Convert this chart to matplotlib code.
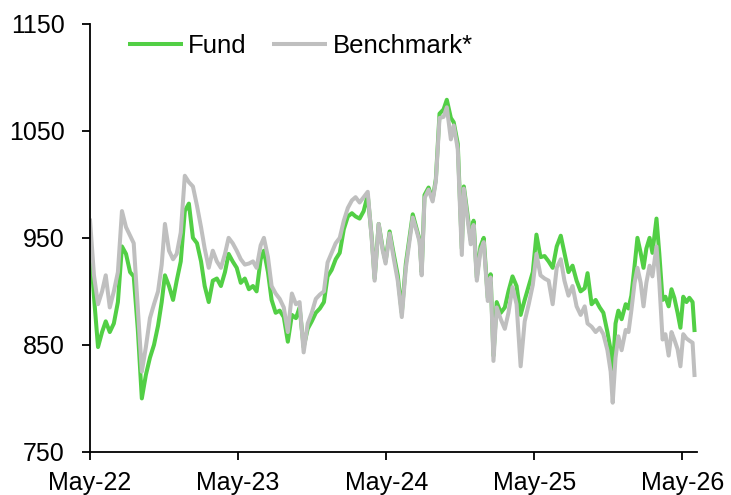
import matplotlib
matplotlib.use("Agg")
import matplotlib.pyplot as plt
import pandas as pd

# Time axis: days elapsed since 1 May 2022
day_offsets = [
    0, 10, 20, 30, 39, 49, 59, 69, 79, 89, 99, 108, 118, 128, 138, 148, 158, 168, 177, 185,
    195, 205, 214, 224, 234, 244, 254, 264, 274, 283, 293, 303, 313, 323, 333, 342, 352, 362, 372, 382,
    392, 402, 411, 421, 429, 439, 448, 458, 468, 478, 488, 498, 508, 517, 527, 537, 547, 557, 567, 577,
    586, 596, 606, 616, 626, 636, 646, 655, 665, 675, 685, 695, 702, 712, 722, 729, 739, 749, 759, 769,
    779, 788, 796, 806, 813, 818, 825, 835, 845, 853, 862, 872, 880, 890, 897, 907, 917, 922, 931, 939,
    946, 954, 963, 971, 981, 988, 995, 1003, 1013, 1023, 1032, 1042, 1052, 1062, 1072, 1082, 1092, 1101, 1111, 1121,
    1131, 1141, 1151, 1161, 1170, 1180, 1190, 1200, 1210, 1220, 1227, 1237, 1247, 1257, 1266, 1276, 1284, 1289, 1296, 1303,
    1311, 1321, 1328, 1335, 1343, 1350, 1358, 1365, 1372, 1380, 1387, 1397, 1404, 1412, 1419, 1427, 1434, 1441, 1449, 1456,
    1463, 1471, 1478, 1486, 1491,
]

fund = [
    950, 895, 848, 862, 872, 862, 870, 890, 942, 935, 918, 914, 865, 800, 822, 838, 850, 868, 890, 915,
    905, 892, 910, 928, 975, 982, 950, 945, 928, 905, 890, 910, 912, 905, 918, 935, 928, 922, 908, 912,
    902, 905, 900, 930, 938, 918, 892, 880, 882, 876, 853, 878, 875, 885, 848, 865, 872, 880, 884, 890,
    914, 920, 930, 936, 958, 970, 973, 970, 968, 975, 990, 950, 912, 963, 940, 928, 956, 935, 915, 880,
    926, 950, 972, 958, 948, 918, 990, 997, 986, 1005, 1066, 1070, 1079, 1062, 1058, 1038, 940, 998, 972, 948,
    966, 913, 942, 950, 894, 916, 840, 890, 880, 885, 900, 914, 905, 878, 892, 905, 918, 953, 932, 933,
    928, 922, 942, 952, 936, 918, 924, 910, 900, 903, 917, 888, 892, 885, 880, 862, 845, 824, 870, 882,
    874, 888, 884, 896, 924, 950, 936, 922, 940, 950, 936, 968, 935, 892, 895, 886, 902, 894, 880, 866,
    895, 890, 894, 890, 862,
]

benchmark = [
    968, 915, 888, 900, 915, 885, 900, 918, 975, 960, 952, 945, 885, 825, 848, 875, 888, 900, 925, 963,
    938, 930, 935, 955, 1008, 1002, 998, 980, 960, 940, 922, 938, 928, 922, 935, 950, 945, 938, 930, 925,
    926, 928, 922, 943, 950, 932, 905, 898, 893, 885, 862, 898, 888, 890, 843, 870, 880, 893, 897, 900,
    927, 936, 945, 950, 966, 978, 985, 988, 983, 988, 993, 948, 910, 963, 938, 926, 954, 931, 910, 876,
    922, 947, 969, 956, 946, 915, 987, 995, 984, 1003, 1062, 1063, 1072, 1042, 1055, 1033, 934, 996, 968, 944,
    962, 910, 938, 946, 891, 913, 835, 885, 874, 865, 880, 904, 888, 830, 872, 888, 906, 935, 915, 912,
    910, 888, 922, 930, 910, 896, 905, 886, 878, 886, 870, 867, 862, 866, 860, 845, 825, 796, 838, 858,
    845, 864, 862, 882, 908, 922, 908, 886, 908, 924, 914, 942, 908, 855, 860, 840, 862, 855, 846, 830,
    860, 856, 854, 852, 820,
]

series_labels = ["Fund", "Benchmark*"]
series_colors = ["#52CF45", "#BFBFBF"]
y_ticks = [750, 850, 950, 1050, 1150]
x_tick_dates = ["2022-05-01", "2023-05-01", "2024-05-01", "2025-05-01", "2026-05-01"]
x_tick_labels = ["May-22", "May-23", "May-24", "May-25", "May-26"]

plt.rcParams["font.family"] = ["Liberation Sans", "DejaVu Sans"]

start = pd.Timestamp("2022-05-01")
dates = start + pd.to_timedelta(day_offsets, unit="D")

fig = plt.figure(figsize=(7.31, 4.95), dpi=100)
ax = fig.add_axes([0.123, 0.087, 0.830, 0.865])

ax.plot(dates, fund, color=series_colors[0], lw=2.9, label=series_labels[0],
        solid_joinstyle="round", solid_capstyle="butt")
ax.plot(dates, benchmark, color=series_colors[1], lw=2.9, label=series_labels[1],
        solid_joinstyle="round", solid_capstyle="butt")

ax.set_ylim(750, 1150)
ax.set_yticks(y_ticks)
ax.set_xlim(start, pd.Timestamp("2026-06-05"))
ax.set_xticks(pd.to_datetime(x_tick_dates))
ax.set_xticklabels(x_tick_labels)

for s in ["top", "right"]:
    ax.spines[s].set_visible(False)
for s in ["left", "bottom"]:
    ax.spines[s].set_linewidth(1.3)
    ax.spines[s].set_color("black")

ax.tick_params(axis="y", direction="out", length=6, width=1.3, pad=12, labelsize=18)
ax.tick_params(axis="x", direction="out", length=6, width=1.3, pad=8, labelsize=18)

leg = ax.legend(loc="upper left", bbox_to_anchor=(0.0626, 0.975), ncol=2, frameon=False,
                fontsize=18.5, handlelength=2.14, handletextpad=0.2, columnspacing=1.0,
                borderaxespad=0.0, borderpad=0.0)

fig.savefig("out.png", dpi=100)
